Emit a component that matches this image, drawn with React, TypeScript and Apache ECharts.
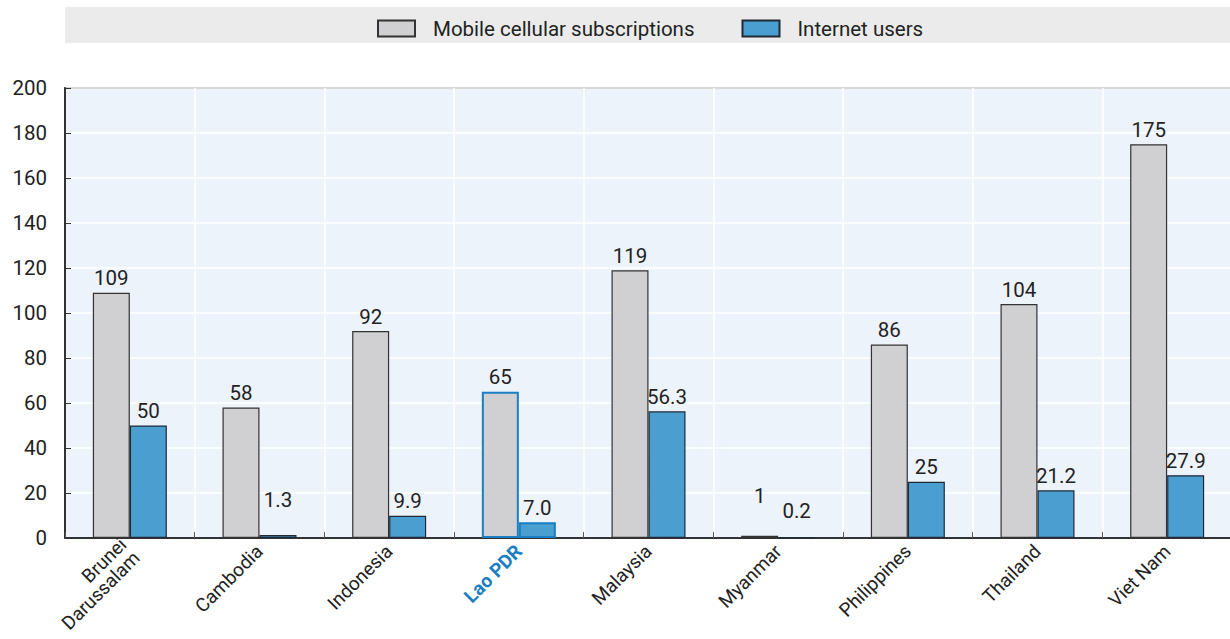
import React, { useEffect, useRef } from "react";
import * as echarts from "echarts";

const categories = ["Brunei\nDarussalam", "Cambodia", "Indonesia", "Lao PDR", "Malaysia", "Myanmar", "Philippines", "Thailand", "Viet Nam"];
const mobileValues = [109, 58, 92, 65, 119, 1, 86, 104, 175];
const internetValues = [50, 1.3, 9.9, 7.0, 56.3, 0.2, 25, 21.2, 27.9];
const internetLabels = ["50", "1.3", "9.9", "7.0", "56.3", "0.2", "25", "21.2", "27.9"];
const yTicks = [0, 20, 40, 60, 80, 100, 120, 140, 160, 180, 200];

const FONT = "Roboto, 'Liberation Sans', sans-serif";
const FS = 20.5;
const XFS = 19;
const HIGHLIGHT = "Lao PDR";
const mobileLabelOffsets: Record<number, number> = { 5: -25 };
const internetLabelOffsets: Record<number, number> = { 1: -21, 5: -12 };

export default function App() {
  const ref = useRef<HTMLDivElement>(null);
  useEffect(() => {
    document.body.style.margin = "0";
    const chart = echarts.init(ref.current!, null, { renderer: "svg" });
    const hlIdx = categories.indexOf(HIGHLIGHT);
    chart.setOption({
      animation: false,
      textStyle: { fontFamily: FONT },
      graphic: [
        { type: "rect", shape: { x: 65, y: 7, width: 1165, height: 36 }, style: { fill: "#ebebeb" }, z: -1 },
      ],
      legend: {
        top: 13,
        left: 372,
        itemWidth: 37,
        itemHeight: 16,
        itemGap: 47,
        icon: "rect",
        textStyle: { fontFamily: FONT, fontSize: FS, color: "#222", padding: [0, 0, 0, 13] },
        data: ["Mobile cellular subscriptions", "Internet users"],
      },
      grid: {
        left: 65, right: -2, top: 88, bottom: 101,
        containLabel: false,
        outerBoundsMode: "none",
        show: true, backgroundColor: "#edf3fa", borderColor: "#333", borderWidth: 1.5,
      },
      xAxis: {
        type: "category",
        data: categories,
        axisLine: { show: true, lineStyle: { color: "#333", width: 2 } },
        axisTick: { show: true, inside: true, length: 6, lineStyle: { color: "#555" } },
        splitLine: { show: true, lineStyle: { color: "#ffffff", width: 1.5 } },
        axisLabel: {
          rotate: 45,
          margin: 10,
          interval: 0,
          fontFamily: FONT,
          fontSize: XFS,
          color: "#222",
          lineHeight: 19,
          formatter: (v: string) => (v === HIGHLIGHT ? "{hl|" + v + "}" : v),
          rich: { hl: { color: "#1a7ec2", fontWeight: "bold", fontFamily: FONT, fontSize: XFS } },
        },
      },
      yAxis: {
        type: "value",
        min: yTicks[0],
        max: yTicks[yTicks.length - 1],
        interval: 20,
        axisLine: { show: true, lineStyle: { color: "#333", width: 2 } },
        axisTick: { show: true, inside: true, length: 6, lineStyle: { color: "#333" } },
        splitLine: { show: true, lineStyle: { color: "#ffffff", width: 1.5 } },
        axisLabel: { margin: 18, fontFamily: FONT, fontSize: FS, color: "#222" },
      },
      series: [
        {
          name: "Mobile cellular subscriptions",
          type: "bar",
          barWidth: 37,
          barGap: "0%",
          itemStyle: { color: "#d0d0d2", borderColor: "#333", borderWidth: 1.2 },
          label: { show: true, position: "top", distance: 4, fontFamily: FONT, fontSize: FS, color: "#222" },
          data: mobileValues.map((v, i) => ({
            value: v,
            itemStyle: i === hlIdx ? { borderColor: "#1a7ec2", borderWidth: 2 } : undefined,
            label: mobileLabelOffsets[i] !== undefined ? { offset: [0, mobileLabelOffsets[i]] } : undefined,
          })),
        },
        {
          name: "Internet users",
          type: "bar",
          barWidth: 37,
          barGap: "0%",
          itemStyle: { color: "#4a9fd0", borderColor: "#1f2a36", borderWidth: 1.2 },
          label: {
            show: true, position: "top", distance: 4, fontFamily: FONT, fontSize: FS, color: "#222",
            formatter: (p: any) => internetLabels[p.dataIndex],
          },
          data: internetValues.map((v, i) => ({
            value: v,
            itemStyle: i === hlIdx ? { borderColor: "#1a7ec2", borderWidth: 2 } : undefined,
            label: internetLabelOffsets[i] !== undefined ? { offset: [0, internetLabelOffsets[i]] } : undefined,
          })),
        },
      ],
    });
    return () => chart.dispose();
  }, []);
  return <div ref={ref} style={{ position: "absolute", left: 0, top: 0, width: 1230, height: 639 }} />;
}
